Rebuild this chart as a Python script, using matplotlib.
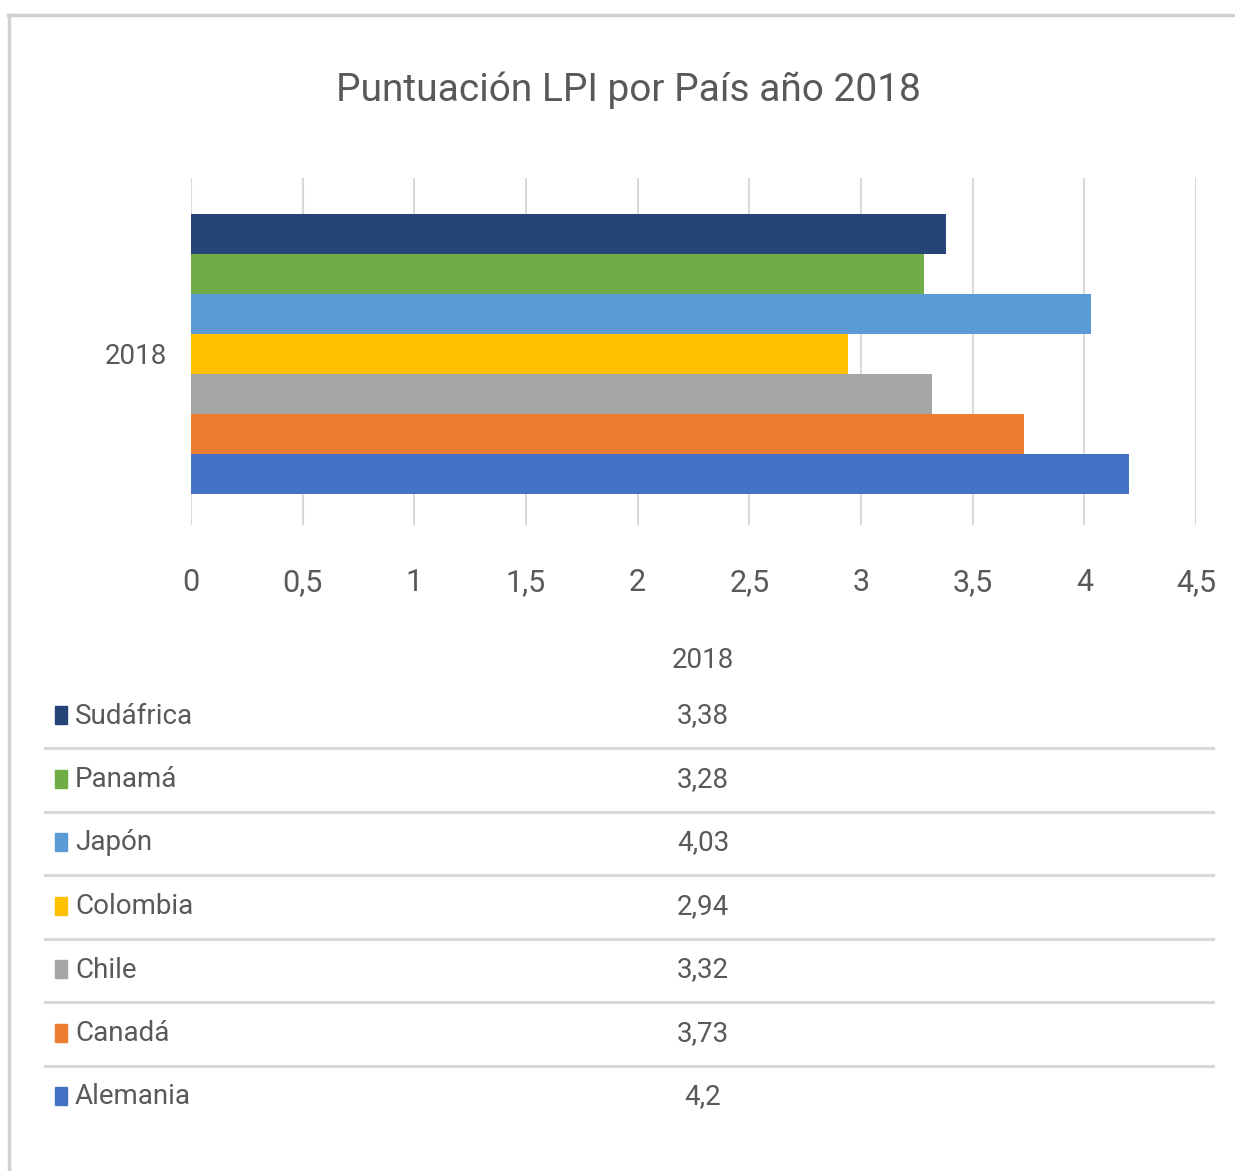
import matplotlib.pyplot as plt
from matplotlib.lines import Line2D
from matplotlib.patches import Rectangle

# LPI scores 2018, listed top to bottom as in the bar cluster
paises = ['Sudáfrica', 'Panamá', 'Japón', 'Colombia', 'Chile', 'Canadá', 'Alemania']
valores = [3.38, 3.28, 4.03, 2.94, 3.32, 3.73, 4.2]
etiquetas = ['3,38', '3,28', '4,03', '2,94', '3,32', '3,73', '4,2']
colores = ['#264478', '#70AD47', '#5B9BD5', '#FFC000', '#A5A5A5', '#ED7D31', '#4472C4']
ticks = [0, 0.5, 1, 1.5, 2, 2.5, 3, 3.5, 4, 4.5]
anio = '2018'

fuente = ['Roboto', 'DejaVu Sans']
gris = '#595959'
W, H = 1235, 1171

fig = plt.figure(figsize=(W / 100, H / 100), dpi=100)

# frame of the chart area
fig.add_artist(Line2D([8 / W, 1], [1 - 15 / H] * 2, color='#D0D0D0', lw=2.5))
fig.add_artist(Line2D([9 / W] * 2, [0, 1 - 15 / H], color='#D0D0D0', lw=2.5))

fig.text(628 / W, 1 - 90 / H, 'Puntuación LPI por País año 2018',
         ha='center', va='center', fontsize=28, color=gris, family=fuente)

ax = fig.add_axes([191 / W, 1 - 525 / H, 1005 / W, 347 / H])
n = len(paises)
pos = [n - 1 - i for i in range(n)]
ax.barh(pos, valores, height=1.0, color=colores, zorder=3)
ax.set_xlim(0, 4.5)
ax.set_ylim(-1.275, n - 0.5 + 0.9)
ax.set_xticks(ticks)
ax.set_xticklabels([str(t).replace('.', ',') if t % 1 else str(int(t)) for t in ticks],
                   fontsize=22, color=gris, family=fuente)
ax.set_yticks([(n - 1) / 2])
ax.set_yticklabels([anio], fontsize=20, color=gris, family=fuente)
ax.tick_params(length=0)
ax.tick_params(axis='y', pad=17)
ax.tick_params(axis='x', pad=31)
ax.grid(axis='x', color='#D9D9D9', lw=1.5, zorder=0)
for s in ax.spines.values():
    s.set_visible(False)

# data table under the chart
fig.text(703 / W, 1 - 660 / H, anio, ha='center', va='center',
         fontsize=20, color=gris, family=fuente)
fila0, paso = 716, 63.5
for i, (p, e, c) in enumerate(zip(paises, etiquetas, colores)):
    y = fila0 + i * paso
    fig.add_artist(Rectangle((55 / W, 1 - (y + 8) / H), 12 / W, 18 / H,
                             color=c, transform=fig.transFigure))
    fig.text(75 / W, 1 - y / H, p, ha='left', va='center',
             fontsize=20, color=gris, family=fuente)
    fig.text(703 / W, 1 - y / H, e, ha='center', va='center',
             fontsize=20, color=gris, family=fuente)
    if i < n - 1:
        ly = y + 32
        fig.add_artist(Line2D([45 / W, 1213 / W], [1 - ly / H] * 2,
                              color='#D9D9D9', lw=2.2))

fig.savefig('out.png', dpi=100, facecolor='white')
